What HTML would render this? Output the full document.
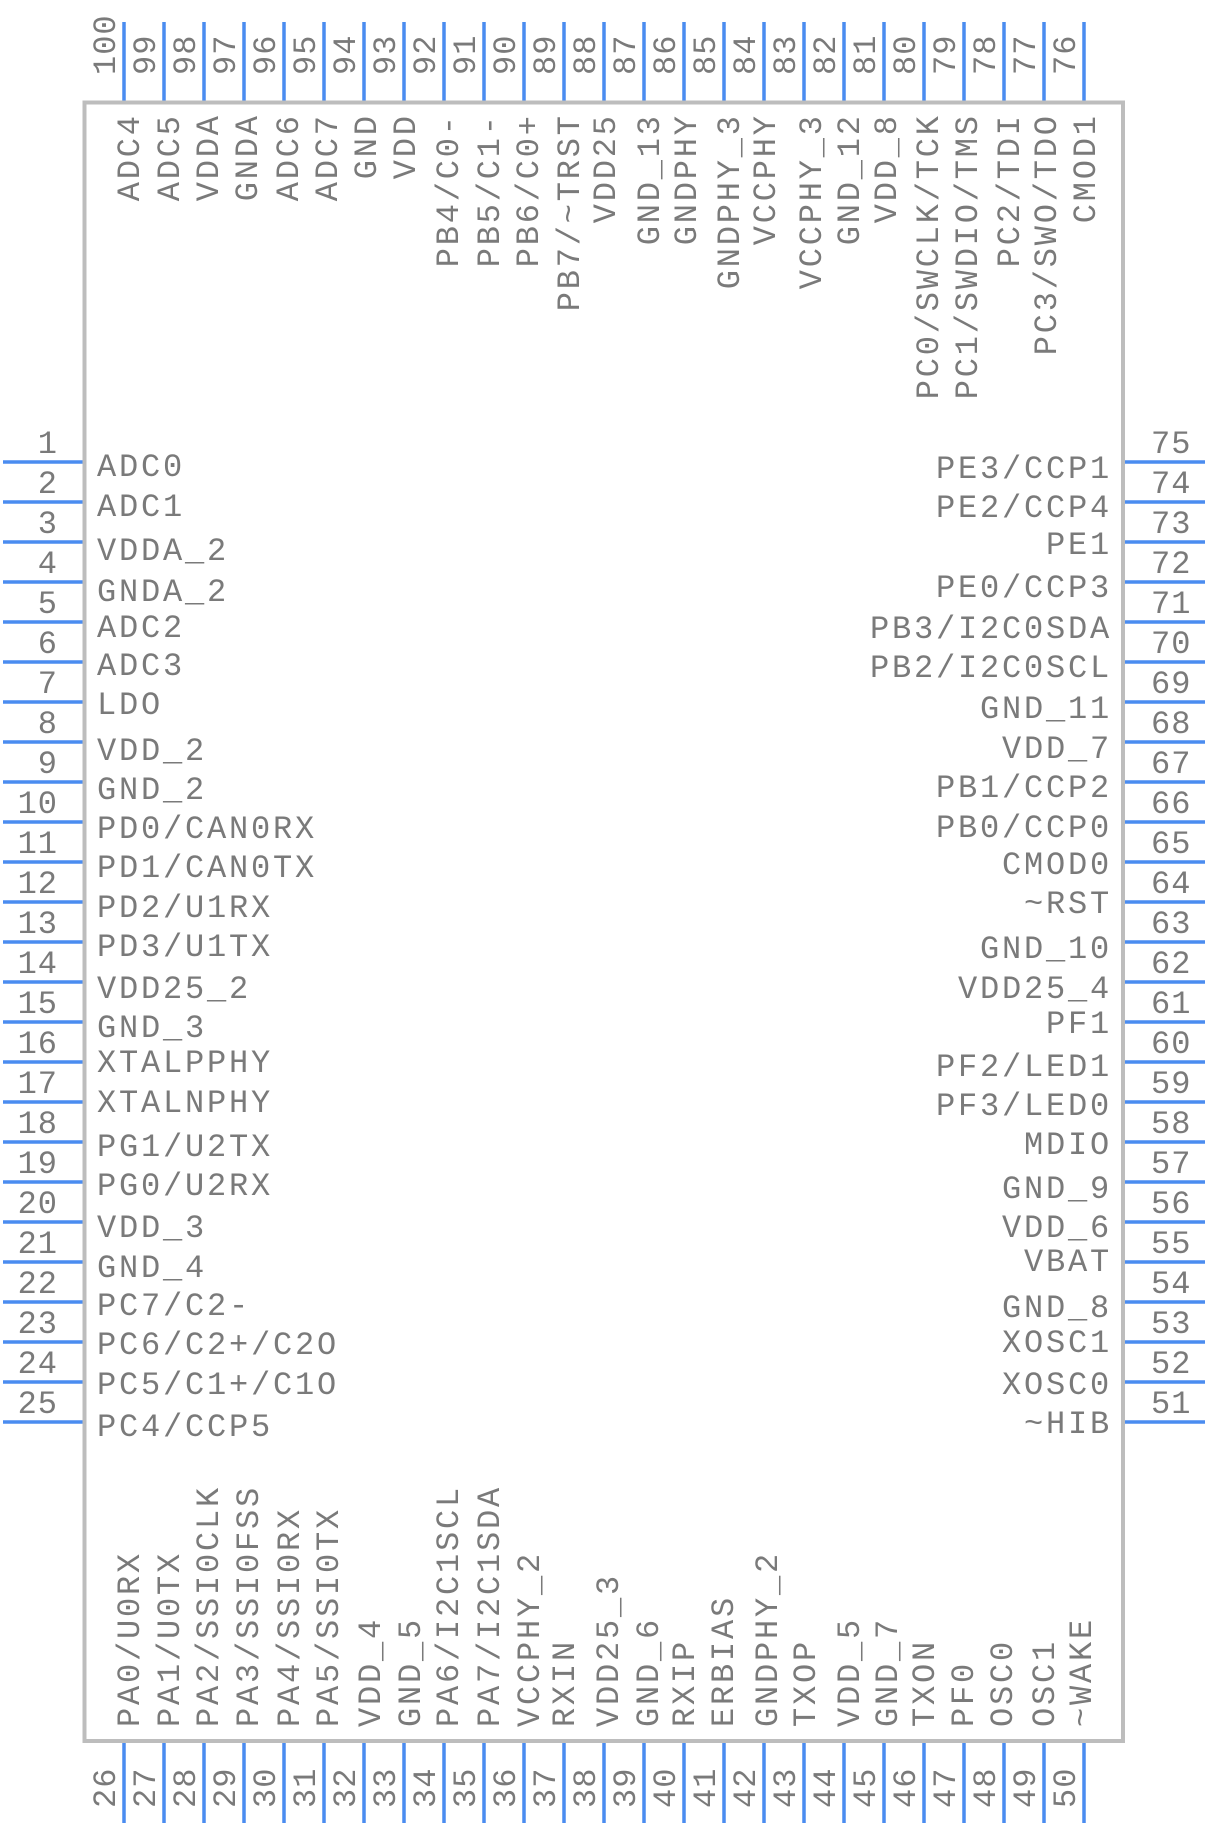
<!DOCTYPE html>
<html><head><meta charset="utf-8"><style>
html,body{margin:0;padding:0;background:#fff}
svg{display:block}
text{font-family:"Liberation Mono",monospace;fill:#7a7a7a}
.l{font-size:32px;letter-spacing:2.8px}
.n{font-size:32px;letter-spacing:1px}
</style></head><body>
<svg width="1208" height="1826" viewBox="0 0 1208 1826" xmlns="http://www.w3.org/2000/svg">
<g stroke="#4a8cf0" stroke-width="3.5">
<path d="M3 462H84M3 502H84M3 542H84M3 582H84M3 622H84M3 662H84M3 702H84M3 742H84M3 782H84M3 822H84M3 862H84M3 902H84M3 942H84M3 982H84M3 1022H84M3 1062H84M3 1102H84M3 1142H84M3 1182H84M3 1222H84M3 1262H84M3 1302H84M3 1342H84M3 1382H84M3 1422H84"/>
<path d="M1124 462H1205M1124 502H1205M1124 542H1205M1124 582H1205M1124 622H1205M1124 662H1205M1124 702H1205M1124 742H1205M1124 782H1205M1124 822H1205M1124 862H1205M1124 902H1205M1124 942H1205M1124 982H1205M1124 1022H1205M1124 1062H1205M1124 1102H1205M1124 1142H1205M1124 1182H1205M1124 1222H1205M1124 1262H1205M1124 1302H1205M1124 1342H1205M1124 1382H1205M1124 1422H1205"/>
<path d="M124 22V102M164 22V102M204 22V102M244 22V102M284 22V102M324 22V102M364 22V102M404 22V102M444 22V102M484 22V102M524 22V102M564 22V102M604 22V102M644 22V102M684 22V102M724 22V102M764 22V102M804 22V102M844 22V102M884 22V102M924 22V102M964 22V102M1004 22V102M1044 22V102M1084 22V102"/>
<path d="M124 1741V1823M164 1741V1823M204 1741V1823M244 1741V1823M284 1741V1823M324 1741V1823M364 1741V1823M404 1741V1823M444 1741V1823M484 1741V1823M524 1741V1823M564 1741V1823M604 1741V1823M644 1741V1823M684 1741V1823M724 1741V1823M764 1741V1823M804 1741V1823M844 1741V1823M884 1741V1823M924 1741V1823M964 1741V1823M1004 1741V1823M1044 1741V1823M1084 1741V1823"/>
</g>
<rect x="84.5" y="102.5" width="1038.5" height="1638.5" fill="none" stroke="#bdbdbd" stroke-width="4"/>

<g class="n" text-anchor="end">
<text x="58" y="453">1</text><text x="58" y="493">2</text><text x="58" y="533">3</text><text x="58" y="573">4</text><text x="58" y="613">5</text><text x="58" y="653">6</text><text x="58" y="693">7</text><text x="58" y="733">8</text><text x="58" y="773">9</text><text x="58" y="813">10</text><text x="58" y="853">11</text><text x="58" y="893">12</text><text x="58" y="933">13</text><text x="58" y="973">14</text><text x="58" y="1013">15</text><text x="58" y="1053">16</text><text x="58" y="1093">17</text><text x="58" y="1133">18</text><text x="58" y="1173">19</text><text x="58" y="1213">20</text><text x="58" y="1253">21</text><text x="58" y="1293">22</text><text x="58" y="1333">23</text><text x="58" y="1373">24</text><text x="58" y="1413">25</text>
</g>
<g class="n">
<text x="1151" y="453">75</text><text x="1151" y="493">74</text><text x="1151" y="533">73</text><text x="1151" y="573">72</text><text x="1151" y="613">71</text><text x="1151" y="653">70</text><text x="1151" y="693">69</text><text x="1151" y="733">68</text><text x="1151" y="773">67</text><text x="1151" y="813">66</text><text x="1151" y="853">65</text><text x="1151" y="893">64</text><text x="1151" y="933">63</text><text x="1151" y="973">62</text><text x="1151" y="1013">61</text><text x="1151" y="1053">60</text><text x="1151" y="1093">59</text><text x="1151" y="1133">58</text><text x="1151" y="1173">57</text><text x="1151" y="1213">56</text><text x="1151" y="1253">55</text><text x="1151" y="1293">54</text><text x="1151" y="1333">53</text><text x="1151" y="1373">52</text><text x="1151" y="1413">51</text>
</g>
<g class="n">
<text transform="translate(115,75) rotate(-90)">100</text><text transform="translate(155,75) rotate(-90)">99</text><text transform="translate(195,75) rotate(-90)">98</text><text transform="translate(235,75) rotate(-90)">97</text><text transform="translate(275,75) rotate(-90)">96</text><text transform="translate(315,75) rotate(-90)">95</text><text transform="translate(355,75) rotate(-90)">94</text><text transform="translate(395,75) rotate(-90)">93</text><text transform="translate(435,75) rotate(-90)">92</text><text transform="translate(475,75) rotate(-90)">91</text><text transform="translate(515,75) rotate(-90)">90</text><text transform="translate(555,75) rotate(-90)">89</text><text transform="translate(595,75) rotate(-90)">88</text><text transform="translate(635,75) rotate(-90)">87</text><text transform="translate(675,75) rotate(-90)">86</text><text transform="translate(715,75) rotate(-90)">85</text><text transform="translate(755,75) rotate(-90)">84</text><text transform="translate(795,75) rotate(-90)">83</text><text transform="translate(835,75) rotate(-90)">82</text><text transform="translate(875,75) rotate(-90)">81</text><text transform="translate(915,75) rotate(-90)">80</text><text transform="translate(955,75) rotate(-90)">79</text><text transform="translate(995,75) rotate(-90)">78</text><text transform="translate(1035,75) rotate(-90)">77</text><text transform="translate(1075,75) rotate(-90)">76</text>
</g>
<g class="n">
<text transform="translate(115,1808) rotate(-90)">26</text><text transform="translate(155,1808) rotate(-90)">27</text><text transform="translate(195,1808) rotate(-90)">28</text><text transform="translate(235,1808) rotate(-90)">29</text><text transform="translate(275,1808) rotate(-90)">30</text><text transform="translate(315,1808) rotate(-90)">31</text><text transform="translate(355,1808) rotate(-90)">32</text><text transform="translate(395,1808) rotate(-90)">33</text><text transform="translate(435,1808) rotate(-90)">34</text><text transform="translate(475,1808) rotate(-90)">35</text><text transform="translate(515,1808) rotate(-90)">36</text><text transform="translate(555,1808) rotate(-90)">37</text><text transform="translate(595,1808) rotate(-90)">38</text><text transform="translate(635,1808) rotate(-90)">39</text><text transform="translate(675,1808) rotate(-90)">40</text><text transform="translate(715,1808) rotate(-90)">41</text><text transform="translate(755,1808) rotate(-90)">42</text><text transform="translate(795,1808) rotate(-90)">43</text><text transform="translate(835,1808) rotate(-90)">44</text><text transform="translate(875,1808) rotate(-90)">45</text><text transform="translate(915,1808) rotate(-90)">46</text><text transform="translate(955,1808) rotate(-90)">47</text><text transform="translate(995,1808) rotate(-90)">48</text><text transform="translate(1035,1808) rotate(-90)">49</text><text transform="translate(1075,1808) rotate(-90)">50</text>
</g>

<g class="l">
<text x="97" y="476">ADC0</text><text x="97" y="516">ADC1</text><text x="97" y="560">VDDA_2</text><text x="97" y="601">GNDA_2</text><text x="97" y="637">ADC2</text><text x="97" y="675">ADC3</text><text x="97" y="714">LDO</text><text x="97" y="760">VDD_2</text><text x="97" y="799">GND_2</text><text x="97" y="838">PD0/CAN0RX</text><text x="97" y="877">PD1/CAN0TX</text><text x="97" y="917">PD2/U1RX</text><text x="97" y="956">PD3/U1TX</text><text x="97" y="998">VDD25_2</text><text x="97" y="1037">GND_3</text><text x="97" y="1072">XTALPPHY</text><text x="97" y="1112">XTALNPHY</text><text x="97" y="1156">PG1/U2TX</text><text x="97" y="1195">PG0/U2RX</text><text x="97" y="1237">VDD_3</text><text x="97" y="1277">GND_4</text><text x="97" y="1315">PC7/C2-</text><text x="97" y="1354">PC6/C2+/C2O</text><text x="97" y="1394">PC5/C1+/C1O</text><text x="97" y="1436">PC4/CCP5</text>
</g>
<g class="l" text-anchor="end">
<text x="1112" y="478">PE3/CCP1</text><text x="1112" y="517">PE2/CCP4</text><text x="1112" y="554">PE1</text><text x="1112" y="597">PE0/CCP3</text><text x="1112" y="638">PB3/I2C0SDA</text><text x="1112" y="677">PB2/I2C0SCL</text><text x="1112" y="718">GND_11</text><text x="1112" y="758">VDD_7</text><text x="1112" y="797">PB1/CCP2</text><text x="1112" y="837">PB0/CCP0</text><text x="1112" y="874">CMOD0</text><text x="1112" y="913">~RST</text><text x="1112" y="958">GND_10</text><text x="1112" y="998">VDD25_4</text><text x="1112" y="1033">PF1</text><text x="1112" y="1076">PF2/LED1</text><text x="1112" y="1115">PF3/LED0</text><text x="1112" y="1154">MDIO</text><text x="1112" y="1198">GND_9</text><text x="1112" y="1237">VDD_6</text><text x="1112" y="1271">VBAT</text><text x="1112" y="1317">GND_8</text><text x="1112" y="1352">XOSC1</text><text x="1112" y="1394">XOSC0</text><text x="1112" y="1433">~HIB</text>
</g>
<g class="l" text-anchor="end">
<text transform="translate(139,116) rotate(-90)" x="2.8">ADC4</text><text transform="translate(179,116) rotate(-90)" x="2.8">ADC5</text><text transform="translate(218,116) rotate(-90)" x="2.8">VDDA</text><text transform="translate(257,116) rotate(-90)" x="2.8">GNDA</text><text transform="translate(298,116) rotate(-90)" x="2.8">ADC6</text><text transform="translate(337,116) rotate(-90)" x="2.8">ADC7</text><text transform="translate(376,116) rotate(-90)" x="2.8">GND</text><text transform="translate(415,116) rotate(-90)" x="2.8">VDD</text><text transform="translate(458,116) rotate(-90)" x="2.8">PB4/C0-</text><text transform="translate(499,116) rotate(-90)" x="2.8">PB5/C1-</text><text transform="translate(538,116) rotate(-90)" x="2.8">PB6/C0+</text><text transform="translate(579,116) rotate(-90)" x="2.8">PB7/~TRST</text><text transform="translate(615,116) rotate(-90)" x="2.8">VDD25</text><text transform="translate(659,116) rotate(-90)" x="2.8">GND_13</text><text transform="translate(696,116) rotate(-90)" x="2.8">GNDPHY</text><text transform="translate(739,116) rotate(-90)" x="2.8">GNDPHY_3</text><text transform="translate(775,116) rotate(-90)" x="2.8">VCCPHY</text><text transform="translate(821,116) rotate(-90)" x="2.8">VCCPHY_3</text><text transform="translate(859,116) rotate(-90)" x="2.8">GND_12</text><text transform="translate(896,116) rotate(-90)" x="2.8">VDD_8</text><text transform="translate(938,116) rotate(-90)" x="2.8">PC0/SWCLK/TCK</text><text transform="translate(977,116) rotate(-90)" x="2.8">PC1/SWDIO/TMS</text><text transform="translate(1019,116) rotate(-90)" x="2.8">PC2/TDI</text><text transform="translate(1056,116) rotate(-90)" x="2.8">PC3/SWO/TDO</text><text transform="translate(1095,116) rotate(-90)" x="2.8">CMOD1</text>
</g>
<g class="l">
<text transform="translate(139,1727) rotate(-90)">PA0/U0RX</text><text transform="translate(179,1727) rotate(-90)">PA1/U0TX</text><text transform="translate(218,1727) rotate(-90)">PA2/SSI0CLK</text><text transform="translate(258,1727) rotate(-90)">PA3/SSI0FSS</text><text transform="translate(299,1727) rotate(-90)">PA4/SSI0RX</text><text transform="translate(338,1727) rotate(-90)">PA5/SSI0TX</text><text transform="translate(380,1727) rotate(-90)">VDD_4</text><text transform="translate(420,1727) rotate(-90)">GND_5</text><text transform="translate(458,1727) rotate(-90)">PA6/I2C1SCL</text><text transform="translate(499,1727) rotate(-90)">PA7/I2C1SDA</text><text transform="translate(539,1727) rotate(-90)">VCCPHY_2</text><text transform="translate(574,1727) rotate(-90)">RXIN</text><text transform="translate(618,1727) rotate(-90)">VDD25_3</text><text transform="translate(658,1727) rotate(-90)">GND_6</text><text transform="translate(694,1727) rotate(-90)">RXIP</text><text transform="translate(733,1727) rotate(-90)">ERBIAS</text><text transform="translate(777,1727) rotate(-90)">GNDPHY_2</text><text transform="translate(815,1727) rotate(-90)">TXOP</text><text transform="translate(859,1727) rotate(-90)">VDD_5</text><text transform="translate(897,1727) rotate(-90)">GND_7</text><text transform="translate(934,1727) rotate(-90)">TXON</text><text transform="translate(973,1727) rotate(-90)">PF0</text><text transform="translate(1012,1727) rotate(-90)">OSC0</text><text transform="translate(1054,1727) rotate(-90)">OSC1</text><text transform="translate(1091,1727) rotate(-90)">~WAKE</text>
</g>
</svg>
</body></html>
